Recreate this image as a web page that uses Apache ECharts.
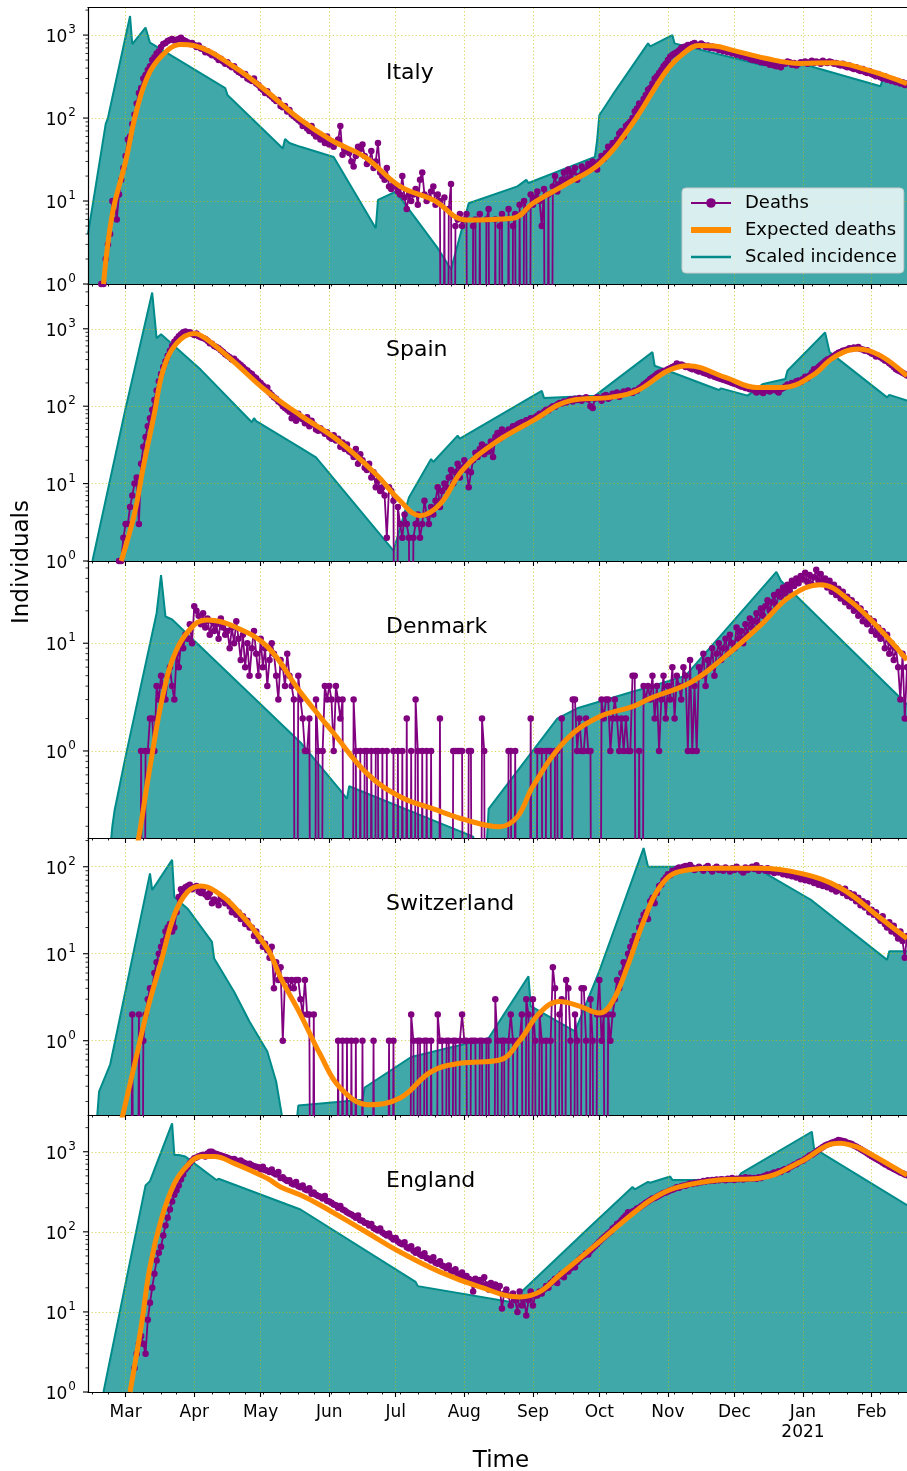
<!DOCTYPE html>
<html><head><meta charset="utf-8">
<script src="https://cdn.jsdelivr.net/npm/echarts@6/dist/echarts.min.js"></script>
<style>html,body{margin:0;padding:0;background:#fff}#chart{width:907px;height:1471px}</style>
</head><body><div id="chart"></div>
<script>
// ---------------- DATA ----------------
const firstDate = '2020-02-13';
const dayCount = 371; // 2020-02-13 .. 2021-02-17
const monthNames = ['Jan','Feb','Mar','Apr','May','Jun','Jul','Aug','Sep','Oct','Nov','Dec'];
const countries = ['Italy','Spain','Denmark','Switzerland','England'];
const legendNames = ['Deaths','Expected deaths','Scaled incidence'];

// Italy
const italyDeathsStart = '2020-02-19';
const italyDeaths = [1,1,2,3,4,10,10, 6,12,18,25,35,55,60, 85,110,150,200,230,300,330, 380,420,500,540,600,640,720,
780,800,850,870,900,860,880, 900,930,870,850,820,780,800, 760,720,750,690,680,620,640, 600,570,580,540,500,520,480,
450,470,430,410,420,380,360, 350,330,340,300,290,280,300, 260,250,230,220,200,210,190, 180,170,160,165,140,135,140,
120,125,110,105,100,95,90, 80,85,75,70,80,65,60, 62,55,58,50,60,48,52, 45,50,55,80,36,42,40, 38,30,26,35,45,42,48,
35,28,30,40,25,30,50, 22,20,18,25,15,14,16, 15,13,12,20,11,8,12, 10,12,14,9,18,22,12, 10,11,13,15,9,12,10,
0,11,0,8,16,0,5, 6,7,5,6,7,0,0, 5,6,0,7,0,0,6, 8,0,0,6,0,5,7, 0,0,8,0,5,7,0, 9,0,10,8,0,12,9, 11,13,10,5,14,0,12,
0,15,20,13,16,18,22, 17,24,19,22,25,18,20, 26,22,24,28,25,30,27, 24,30,35,32,38,45,40, 50,48,55,65,70,60,80,
85,90,100,120,130,150,140, 170,190,220,230,260,300,320, 350,380,420,450,500,550,580, 600,620,650,700,720,730,760,
750,780,800,760,740,790,760, 720,750,700,730,690,700,660, 680,640,650,620,640,600,620, 580,600,560,570,540,560,520,
500,530,490,510,470,480,460, 470,440,450,430,420,440,410, 460,450,480,470,440,460,430, 450,470,460,480,450,470,490,
460,480,470,450,490,470,460, 480,470,450,460,440,430,450, 420,410,430,400,390,410,380, 370,390,360,350,370,340,330,
320,340,310,300,320,290,300, 280,290,270,280,260,270,250, 260];
const italyExpected = [['2020-02-20',1],['2020-02-24',7],['2020-03-01',30],['2020-03-06',125],['2020-03-12',362],
['2020-03-20',660],['2020-03-26',770],['2020-04-01',745],['2020-04-19',415],['2020-05-03',218],['2020-05-18',100],
['2020-06-02',54],['2020-06-17',34],['2020-07-03',15],['2020-07-18',10.3],['2020-08-02',5.9],['2020-08-23',6.2],
['2020-09-01',9.4],['2020-09-16',16],['2020-10-01',28],['2020-10-16',86],['2020-10-31',362],['2020-11-08',600],
['2020-11-15',750],['2020-11-22',740],['2020-11-30',660],['2020-12-15',525],['2020-12-31',455],['2021-01-15',465],
['2021-01-30',380],['2021-02-17',260]];
const italyIncidence = [['2020-02-13',4],['2020-02-21',85],['2020-02-22',100],['2020-03-03',1700],['2020-03-04',780],
['2020-03-10',1230],['2020-03-12',810],['2020-04-15',230],['2020-04-16',190],['2020-05-11',43],['2020-05-12',56],
['2020-05-14',50],['2020-05-19',45],['2020-06-03',34],['2020-06-22',4.7],['2020-06-23',10.3],['2020-07-01',13],
['2020-07-20',2.7],['2020-07-26',1.5],['2020-08-03',9.4],['2020-08-25',15],['2020-08-29',18],['2020-08-30',16.5],
['2020-09-29',34],['2020-09-30',54],['2020-10-01',108],['2020-10-07',190],['2020-10-23',794],['2020-10-24',730],
['2020-11-03',1000],['2020-11-04',794],['2020-12-14',434],['2020-12-15',470],['2020-12-31',455],['2021-02-05',242],
['2021-02-06',290],['2021-02-17',260]];

// Spain
const spainDeathsStart = '2020-02-27';
const spainDeaths = [1,1,2,3,3,5,7, 10,12,3,18,30,40,55, 70,90,120,160,210,260,320, 380,450,520,600,680,740,800,
850,900,920,880,900,860,830, 870,800,780,760,740,700,650, 640,600,580,560,530,500,470, 450,430,400,410,380,360,340,
320,300,290,270,260,240,230, 210,200,185,170,175,150,140, 130,125,115,110,100,95,90, 85,70,75,65,80,70,68,
60,72,55,65,58,50,48, 52,48,44,46,40,38,42, 36,38,30,34,28,32,26, 25,22,28,18,24,20,16, 15,18,12,14,9,11,8,
9,7,2,9,8,6,0, 5,3,2,4,3,2,0, 2,3,4,2,3,6,4, 3,5,4,6,9,5,8, 10,9,12,15,10,14,18, 12,16,20,15,9,14,20,
25,22,28,32,24,30,26, 35,22,40,45,38,50,46, 45,50,48,55,52,58,60, 62,58,66,64,70,68,72, 75,80,78,85,90,88,95,
100,98,105,110,108,115,112, 118,122,115,125,120,128,118, 125,130,122,100,95,125,130, 128,118,135,140,125,130,145,
138,150,132,145,155,148,160, 150,148,160,158,170,178,190, 200,210,225,235,245,260,270, 275,285,290,300,310,320,330,
355,330,345,335,320,325,310, 300,305,290,280,285,270,265, 260,250,255,240,235,230,225, 220,215,210,205,200,195,190,
185,180,178,172,170,165,168, 160,150,165,155,148,160,170, 155,162,170,158,150,165,172, 180,190,185,200,195,210,215,
205,225,240,230,250,270,300, 300,320,340,360,380,400,410, 430,450,470,490,500,520,530, 540,560,550,575,560,580,550,
540,520,530,500,480,470,440, 450,430,410,390,380,360,340, 320,300,290,280,270,260,250];
const spainExpected = [['2020-02-28',1],['2020-03-05',4.1],['2020-03-09',16.5],['2020-03-14',81],['2020-03-18',295],
['2020-03-24',647],['2020-04-01',870],['2020-04-06',755],['2020-04-18',395],['2020-05-03',162],['2020-05-19',76],
['2020-06-05',36],['2020-06-22',13.3],['2020-07-03',6],['2020-07-12',3.85],['2020-07-21',5.4],['2020-07-31',14.7],
['2020-08-14',32.5],['2020-09-01',65],['2020-09-18',118],['2020-10-06',130],['2020-10-18',158],['2020-11-01',287],
['2020-11-10',333],['2020-11-27',235],['2020-12-11',175],['2020-12-23',175],['2021-01-05',246],['2021-01-15',427],
['2021-01-26',550],['2021-02-05',450],['2021-02-17',246]];
const spainIncidence = [['2020-02-15',1],['2020-03-01',94],['2020-03-13',2940],['2020-03-15',755],['2020-03-17',850],
['2020-04-04',295],['2020-04-27',62],['2020-04-28',70],['2020-04-29',64],['2020-05-19',29],['2020-05-26',21.8],
['2020-06-30',1.36],['2020-07-07',6.6],['2020-07-17',20.8],['2020-07-18',19],['2020-07-29',41.6],['2020-07-30',38],
['2020-09-05',158],['2020-09-06',128],['2020-09-29',136],['2020-10-25',500],['2020-10-26',333],['2020-11-24',162],
['2020-11-25',170],['2020-12-07',137],['2020-12-14',194],['2020-12-24',224],['2020-12-25',287],['2021-01-11',897],
['2021-01-13',500],['2021-02-08',130],['2021-02-09',140],['2021-02-17',118]];

// Denmark
const denmarkDeathsStart = '2020-03-06';
const denmarkDeaths = [0,0,1,0,1,1,2, 2,1,4,3,5,4,3, 5,6,4,3,8,6,10, 9,12,11,15,10,22,20, 18,15,19,14,17,12,16,
13,15,11,17,14,12,13, 9,14,10,16,11,7,12, 6,10,5,9,13,8,5, 11,6,9,4,7,10,8, 5,3,7,6,4,8,5, 4,3,0,5,3,2,1,
1,2,0,0,3,1,0, 1,4,3,4,3,1,4, 3,2,3,0,0,0,0, 3,1,0,1,0,1,1, 0,1,0,1,1,0,1, 0,1,0,0,1,0,1, 0,1,0,2,0,1,0,
3,1,0,1,0,1,0, 1,0,0,0,2,0,0, 0,0,0,1,1,1,1, 1,0,0,1,1,0,0, 0,0,2,1,0,0,0, 0,0,0,0,0,0,0, 1,1,0,1,0,0,0,
0,0,0,2,0,0,1, 1,1,0,1,1,1,0, 1,1,0,2,0,0,0, 0,3,3,1,2,1,1, 2,1,1,0,0,0,0, 3,2,3,3,1,2,3, 2,1,2,1,2,1,1,
5,5,0,1,0,4,3, 4,3,5,2,4,1,3, 5,2,4,3,6,2,5, 4,3,6,5,1,7,1, 4,1,6,5,8,4,7, 6,9,5,8,10,7,9, 11,8,12,10,9,14,11,
13,10,15,12,17,14,16, 19,15,21,18,22,25,20, 24,28,22,30,27,33,29, 35,31,38,34,40,36,42, 39,45,37,43,35,41,48,
38,44,36,40,33,38,30, 35,28,32,26,30,24,27, 22,25,20,23,18,21,16, 19,15,17,13,16,12,14, 11,13,9,12,8,10,7,
9,6,3,8,2,6];
const denmarkExpected = [['2020-03-06',0.13],['2020-03-07',0.16],['2020-03-12',0.71],['2020-03-18',3.4],['2020-03-24',8.7],
['2020-04-01',14.8],['2020-04-07',16.4],['2020-04-19',14.3],['2020-05-04',9.3],['2020-05-19',3.5],['2020-06-03',1.46],
['2020-06-18',0.62],['2020-07-03',0.376],['2020-07-18',0.29],['2020-08-02',0.228],['2020-08-17',0.198],['2020-08-25',0.245],
['2020-09-01',0.47],['2020-09-16',1.27],['2020-10-01',2.08],['2020-10-16',2.58],['2020-10-24',3.08],['2020-11-11',4.3],
['2020-11-25',7],['2020-12-13',14.8],['2020-12-26',27],['2021-01-09',35],['2021-01-22',25],['2021-02-05',13.3],['2021-02-17',7]];
const denmarkIncidence = [['2020-02-23',0.12],['2020-02-24',0.2],['2020-02-25',0.28],['2020-03-01',0.89],['2020-03-15',19],
['2020-03-17',43],['2020-03-19',17.7],['2020-03-22',16.6],['2020-05-19',1.2],['2020-06-06',0.43],['2020-06-09',0.36],
['2020-06-10',0.47],['2020-08-05',0.16],['2020-08-07',0.12],['2020-08-11',0.12],['2020-08-12',0.29],['2020-09-12',2.0],
['2020-09-21',2.49],['2020-10-16',3.55],['2020-10-24',3.95],['2020-11-09',5],['2020-12-20',46],['2020-12-22',38],['2021-02-17',2.7]];

// Switzerland
const switzerlandDeathsStart = '2020-03-02';
const switzerlandDeaths = [0,0,2,0,0,2,0, 1,2,3,4,4,6,8, 10,12,14,18,20,22,18, 20,30,45,55,50,58,60, 62,55,58,60,52,50,56,
48,45,50,38,42,40,36, 45,42,38,40,35,30,32, 28,30,25,27,22,24,20, 20,16,18,14,15,12,13, 11,9,12,4,8,5,7,
1,5,5,4,5,4,5, 5,3,2,5,2,2,0, 2,0,0,0,0,0,0, 0,0,0,0,1,0,1, 0,1,0,1,0,1,0, 0,1,0,0,0,0,1, 0,0,0,0,0,0,1,
0,1,0,0,0,0,0, 0,0,2,1,0,1,1, 0,1,1,0,1,0,0, 2,1,1,0,1,1,0, 1,1,0,1,2,1,1, 0,1,1,1,0,1,1, 0,1,1,0,0,3,1,
0,1,1,0,1,2,1, 0,1,1,2,0,3,2, 0,3,1,0,2,1,0, 1,0,1,7,4,0,2, 3,0,5,4,1,0,2, 1,0,4,4,1,0,3, 1,0,2,5,1,2,0,
2,1,2,3,5,4,6, 8,7,10,12,14,16,15, 20,24,28,30,25,40,44, 38,50,60,62,70,75,82, 80,90,88,95,98,92,100,
102,96,105,98,92,96,100, 95,90,98,102,94,88,96, 100,92,95,90,98,94,88, 96,92,100,95,90,86,98, 92,96,100,94,104,90,96,
94,90,96,88,92,85,90, 86,88,82,85,80,84,78, 82,75,80,72,78,70,74, 68,72,65,70,62,66,60, 64,58,62,55,60,52,58,
54,50,56,46,50,44,48, 40,44,36,40,34,38,30, 32,28,30,26,24,27,22, 20,23,18,21,17,15,18, 14,9,16];
const switzerlandExpected = [['2020-02-28',0.12],['2020-02-29',0.15],['2020-03-05',0.53],['2020-03-11',2.36],['2020-03-17',8.1],
['2020-03-23',27.9],['2020-03-29',51.5],['2020-04-04',60],['2020-04-11',51.5],['2020-04-19',34.7],['2020-05-04',11.5],
['2020-05-10',5.3],['2020-05-19',2.0],['2020-05-28',0.69],['2020-06-06',0.286],['2020-06-19',0.184],['2020-07-03',0.22],
['2020-07-17',0.44],['2020-07-30',0.55],['2020-08-17',0.6],['2020-08-26',1.0],['2020-09-04',2.08],['2020-09-13',2.83],
['2020-09-22',2.5],['2020-10-01',2.08],['2020-10-07',2.83],['2020-10-14',7.5],['2020-10-21',23.6],['2020-10-28',57],
['2020-11-06',88],['2020-11-24',96],['2020-12-12',96],['2020-12-31',84],['2021-01-18',57],['2021-02-05',25.7],['2021-02-17',15]];
const switzerlandIncidence = [['2020-02-17',0.12],['2020-02-18',0.26],['2020-02-23',0.53],['2020-03-12',84],['2020-03-13',54],
['2020-03-22',120],['2020-03-23',45],['2020-03-29',33],['2020-04-09',13.7],['2020-04-10',8.8],['2020-04-19',3.66],
['2020-04-26',1.65],['2020-05-04',0.75],['2020-05-08',0.34],['2020-05-11',0.12],['2020-05-17',0.1],['2020-05-18',0.18],
['2020-06-16',0.21],['2020-06-17',0.29],['2020-07-08',0.65],['2020-08-12',1.07],['2020-08-30',5.5],['2020-08-31',2.5],
['2020-09-20',1.28],['2020-10-01',6.3],['2020-10-21',164],['2020-10-23',100],['2020-11-07',100],['2020-12-14',92],
['2020-12-16',81],['2021-01-03',44],['2021-01-05',41],['2021-02-08',8.5],['2021-02-09',10.7],['2021-02-17',10.7]];

// England
const englandDeathsStart = '2020-03-05';
const englandDeaths = [2,3,4,5,4,3,8, 13,20,30,44,55,65,90, 120,150,190,240,290,330,380, 450,520,600,650,720,780,830,
850,880,900,920,870,950,1000, 1000,960,940,920,900,880,860, 840,820,800,810,780,760,780, 740,720,700,710,680,660,650,
640,600,650,590,580,560,600, 540,520,560,470,480,450,430, 440,400,390,420,370,360,380, 340,330,350,300,310,290,280,
275,260,280,245,240,230,220, 215,200,210,190,185,175,170, 165,158,150,160,140,138,130, 128,120,125,112,108,104,110,
98,94,90,95,85,80,84, 76,72,70,74,64,62,66, 58,55,60,52,50,54,47, 46,44,48,41,40,43,38, 37,35,38,33,32,34,30,
29,31,27,28,26,25,18, 26,23,25,21,27,22,19, 23,20,22,18,21,11,17, 19,16,12,17,14,10,18, 12,15,9,14,18,12,16,
16,18,17,19,21,20,23, 24,26,23,28,30,27,32, 32,35,38,36,42,45,48, 50,54,52,58,62,66,70, 75,80,85,90,95,100,110,
115,125,130,140,150,160,175, 170,180,185,195,200,210,220, 230,240,250,260,265,275,285, 295,305,310,320,330,335,345,
360,355,370,380,375,390,400, 395,410,405,420,415,430,425, 440,430,445,435,450,440,455, 450,440,460,450,470,445,460,
455,470,450,480,460,475,465, 470,460,480,470,490,500,520, 510,530,550,540,570,560,590, 610,600,640,660,690,700,740,
760,780,820,850,900,920,960, 1000,1050,1100,1150,1200,1230,1260, 1300,1320,1350,1400,1380,1360,1340,
1300,1280,1250,1200,1160,1120,1080, 1040,1000,960,920,880,850,820, 790,760,730,700,680,650,630, 610,590,570,550,540,520,510];
const englandExpected = [['2020-03-03',1],['2020-03-08',6.5],['2020-03-12',36.5],['2020-03-17',140],['2020-03-23',400],
['2020-03-29',680],['2020-04-04',870],['2020-04-10',870],['2020-04-19',716],['2020-05-04',465],['2020-05-10',364],
['2020-05-19',288],['2020-05-28',215],['2020-06-15',110],['2020-07-03',56],['2020-07-21',31.6],['2020-08-08',20.5],
['2020-08-26',15.4],['2020-09-04',17.8],['2020-09-13',28.7],['2020-10-01',75],['2020-10-19',196],['2020-10-28',288],
['2020-11-06',364],['2020-11-24',443],['2020-12-12',465],['2020-12-31',750],['2021-01-13',1230],['2021-01-18',1280],
['2021-01-23',1200],['2021-01-27',1100],['2021-02-17',510]];
const englandIncidence = [['2020-02-20',1],['2020-03-10',380],['2020-03-12',430],['2020-03-22',2265],['2020-03-23',910],
['2020-03-25',910],['2020-03-28',870],['2020-04-11',443],['2020-04-12',460],['2020-05-19',190],['2020-07-10',23.7],
['2020-07-11',21],['2020-08-22',13.3],['2020-09-26',110],['2020-10-16',364],['2020-10-17',340],['2020-10-23',420],
['2020-10-24',410],['2020-11-02',490],['2020-11-03',445],['2020-12-02',443],['2020-12-04',537],['2021-01-05',1778],
['2021-01-06',1100],['2021-02-17',215]];

// ---------------- LAYOUT / BUILD ----------------
const panels = [
  {deathsStart: italyDeathsStart, deaths: italyDeaths, expected: italyExpected, incidence: italyIncidence},
  {deathsStart: spainDeathsStart, deaths: spainDeaths, expected: spainExpected, incidence: spainIncidence},
  {deathsStart: denmarkDeathsStart, deaths: denmarkDeaths, expected: denmarkExpected, incidence: denmarkIncidence},
  {deathsStart: switzerlandDeathsStart, deaths: switzerlandDeaths, expected: switzerlandExpected, incidence: switzerlandIncidence},
  {deathsStart: englandDeathsStart, deaths: englandDeaths, expected: englandExpected, incidence: englandIncidence}
];
const yLimits = [[1, 2150], [1, 3790], [0.1556, 58], [0.14, 214], [1, 2877]];
const tops = [7.5, 284, 561, 838, 1115];
const heights = [276.5, 277, 277, 277, 277];
const FONT = 'DejaVu Sans';
const GRIDLINE = {color: 'rgba(191,191,0,0.8)', type: [1.2, 2.4], width: 0.8};
const CLEAR = 'rgba(0,0,0,0)';

const day0 = Date.UTC(2020, 1, 13);
const allDates = Array.from({length: dayCount}, (_, i) => new Date(day0 + i * 86400000).toISOString().slice(0, 10));
const idxOf = d => allDates.indexOf(d);
const OFF_AXIS = 1e-6; // zero counts drawn off the bottom of the log axis
const dailyData = (start, vals) => { const s = idxOf(start); return vals.map((v, i) => [s + i, v > 0 ? v : OFF_AXIS]); };
const pairData = pairs => pairs.map(([d, v]) => [idxOf(d), v]);

const isMonthStart = (i, v) => typeof v === 'string' ? v.slice(8) === '01' : allDates[i] && allDates[i].slice(8) === '01';
const mar1 = idxOf('2020-03-01');
const minorSet = new Set();
for (let k = -4; k < 60; k++) { const d = Math.round(mar1 + 7.75 * k); if (d >= 0 && d < dayCount && allDates[d].slice(8) !== '01') minorSet.add(d); }

const xAxes = [], yAxes = [], grids = [], series = [];
tops.forEach((t, gi) => {
  grids.push({left: 88, right: 0, top: t, height: heights[gi], show: false, outerBoundsMode: 'none', containLabel: false});
  xAxes.push({
    type: 'category', gridIndex: gi, data: allDates, boundaryGap: false, position: 'bottom', z: 3,
    axisLine: {show: true, onZero: false, lineStyle: {color: '#000', width: 1.2}},
    axisTick: {show: true, length: 5, interval: isMonthStart, lineStyle: {color: '#000', width: 1.1}},
    axisLabel: {show: gi === 4, interval: isMonthStart, margin: 11, fontSize: 17, lineHeight: 20, fontFamily: FONT, color: '#000',
      formatter: v => { const m = +v.slice(5, 7) - 1; return m === 0 ? monthNames[m] + '\n' + v.slice(0, 4) : monthNames[m]; }},
    splitLine: {show: true, interval: isMonthStart, lineStyle: GRIDLINE}
  });
  xAxes.push({
    type: 'category', gridIndex: gi, data: allDates, boundaryGap: false, position: 'bottom', z: 3,
    axisLine: {show: false}, axisLabel: {show: false}, splitLine: {show: false},
    axisTick: {show: true, length: 2.5, interval: (i) => minorSet.has(i), lineStyle: {color: '#000', width: 0.9}}
  });
  yAxes.push({
    type: 'log', logBase: 10, gridIndex: gi, min: yLimits[gi][0], max: yLimits[gi][1], z: 3,
    axisLine: {show: true, onZero: false, lineStyle: {color: '#000', width: 1.2}},
    axisTick: {show: false},
    axisLabel: {margin: 12, formatter: v => { const l = Math.log10(v), e = Math.round(l); return Math.abs(l - e) < 1e-6 ? '{b|10}{s|' + e + '}' : ''; },
      rich: {b: {fontSize: 17, fontFamily: FONT, color: '#000', lineHeight: 22, verticalAlign: 'bottom'},
             s: {fontSize: 12, fontFamily: FONT, color: '#000', lineHeight: 12, verticalAlign: 'top', padding: [0, 0, 0, 1]}}},
    splitLine: {show: true, lineStyle: GRIDLINE}
  });
});
// top frame of the first panel
xAxes.push({type: 'category', gridIndex: 0, data: allDates, boundaryGap: false, position: 'top', z: 3,
  axisLine: {show: true, onZero: false, lineStyle: {color: '#000', width: 1.2}}, axisTick: {show: false}, axisLabel: {show: false}, splitLine: {show: false}});

panels.forEach((p, gi) => {
  series.push({name: 'Scaled incidence', type: 'line', xAxisIndex: 2 * gi, yAxisIndex: gi, z: 1, symbol: 'none', clip: true,
    data: pairData(p.incidence), lineStyle: {color: '#008b8b', width: 2}, itemStyle: {color: CLEAR},
    areaStyle: {color: '#008b8b', opacity: 0.75, origin: 'start'}});
  series.push({name: 'Deaths', type: 'line', xAxisIndex: 2 * gi, yAxisIndex: gi, z: 4, symbol: 'circle', symbolSize: 6.5,
    showSymbol: true, showAllSymbol: true, clip: true, data: dailyData(p.deathsStart, p.deaths),
    lineStyle: {color: '#800080', width: 1.8}, itemStyle: {color: '#800080', borderWidth: 0}});
  series.push({name: 'Expected deaths', type: 'line', xAxisIndex: 2 * gi, yAxisIndex: gi, z: 5, symbol: 'none', smooth: 0.4,
    clip: true, data: pairData(p.expected), lineStyle: {color: '#ff8c00', width: 5}, itemStyle: {color: CLEAR}});
  // y-axis tick marks (major at decades, minor at 2..9)
  const [lo, hi] = yLimits[gi];
  const ticks = [];
  for (let e = Math.floor(Math.log10(lo)); e <= Math.ceil(Math.log10(hi)); e++)
    for (let m = 1; m <= 9; m++) { const v = m * Math.pow(10, e); if (v >= lo * 0.999 && v <= hi * 1.001) ticks.push([0, v, m === 1 ? 1 : 0]); }
  series.push({type: 'custom', xAxisIndex: 2 * gi, yAxisIndex: gi, silent: true, z: 6, clip: false, data: ticks,
    renderItem: (params, api) => { const pt = api.coord([0, api.value(1)]); const major = api.value(2) === 1; const len = major ? 5 : 2.5;
      return {type: 'line', shape: {x1: pt[0] - len, y1: pt[1], x2: pt[0], y2: pt[1]}, style: {stroke: '#000', lineWidth: major ? 1.1 : 0.8}}; }});
});

const graphics = countries.map((name, i) => ({type: 'text', x: 386, y: tops[i] + 66, z: 20, silent: true,
  style: {text: name, fontSize: 22, fontFamily: FONT, fill: '#000', align: 'left', verticalAlign: 'middle'}}));
graphics.push({type: 'text', x: 22, y: 562, rotation: Math.PI / 2, z: 20, silent: true,
  style: {text: 'Individuals', fontSize: 23, fontFamily: FONT, fill: '#000', align: 'center', verticalAlign: 'middle'}});
graphics.push({type: 'text', x: 501, y: 1461, z: 20, silent: true,
  style: {text: 'Time', fontSize: 23, fontFamily: FONT, fill: '#000', align: 'center', verticalAlign: 'middle'}});

const chart = echarts.init(document.getElementById('chart'), null, {renderer: 'canvas'});
chart.setOption({
  animation: false, backgroundColor: '#fff', textStyle: {fontFamily: FONT},
  grid: grids, xAxis: xAxes, yAxis: yAxes, series: series, graphic: graphics,
  legend: {data: [{name: 'Deaths'}, {name: 'Expected deaths', itemStyle: {color: CLEAR}, lineStyle: {width: 6}},
                  {name: 'Scaled incidence', itemStyle: {color: CLEAR}, lineStyle: {width: 2.5}}],
    orient: 'vertical', left: 682, top: 188, itemWidth: 40, itemHeight: 12, itemGap: 9,
    padding: [6, 7, 7, 6], backgroundColor: 'rgba(255,255,255,0.8)', borderColor: '#cccccc', borderWidth: 1, borderRadius: 4,
    selectedMode: false, z: 10, textStyle: {fontSize: 18, fontFamily: FONT, color: '#000', lineHeight: 18, padding: [0, 0, 0, 9]}}
});
</script></body></html>
